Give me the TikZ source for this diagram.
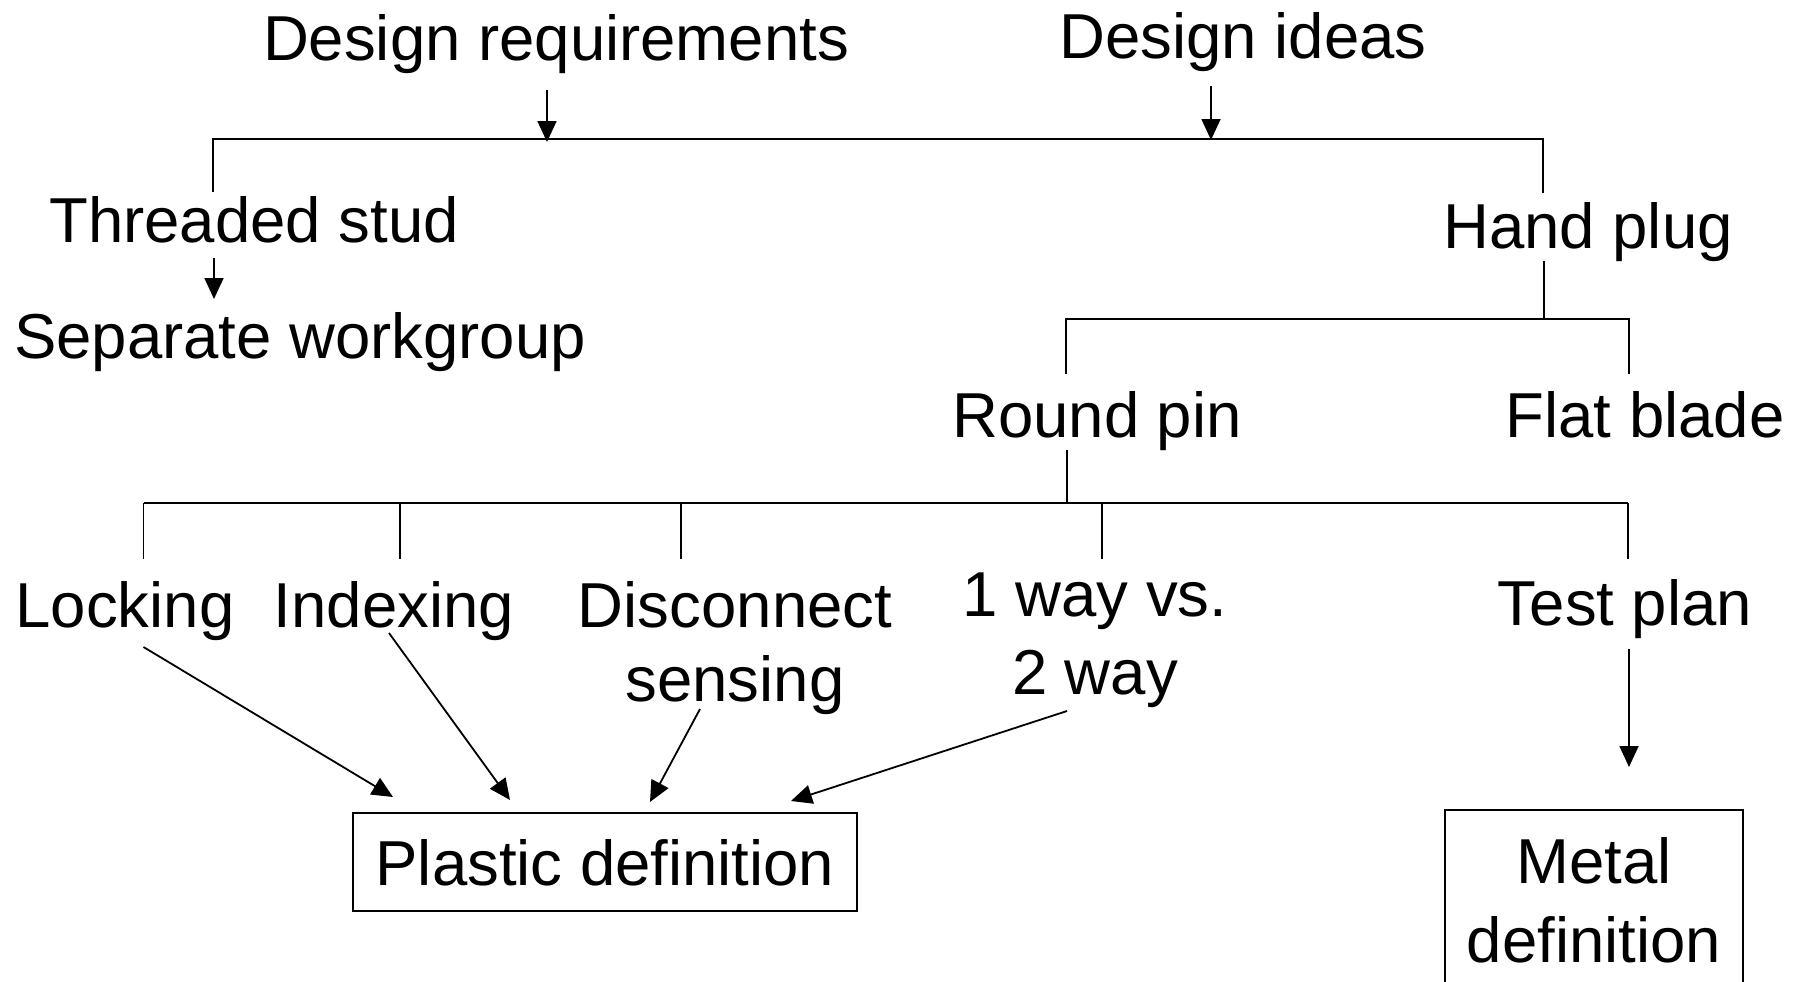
\documentclass[tikz,border=0pt]{standalone}
\usepackage{fontspec}
\setmainfont{Liberation Sans}
\usetikzlibrary{arrows.meta}
\begin{document}
\begin{tikzpicture}[x=1pt,y=-1pt,
  lbl/.style={anchor=base,inner sep=0pt,align=center,font=\fontsize{63.5}{76}\selectfont},
  ln/.style={line width=1.8pt},
  arr/.style={line width=1.8pt,-{Triangle[length=21pt,width=19pt]}},
  boxed/.style={draw,line width=1.8pt,inner sep=0pt,text depth=0pt,font=\fontsize{63.5}{76}\selectfont}]
\useasboundingbox (0,0) rectangle (1802,982);
% text nodes
\node[lbl] (dreq) at (556,60) {Design requirements};
\node[lbl] (dideas) at (1243,59) {Design ideas};
\node[lbl] (stud) at (254,242) {Threaded stud};
\node[lbl] (sep) at (300,358) {Separate workgroup};
\node[lbl] (hand) at (1588,248) {Hand plug};
\node[lbl] (round) at (1097,437) {Round pin};
\node[lbl] (flat) at (1645,437) {Flat blade};
\node[lbl] (lock) at (125,627) {Locking};
\node[lbl] (index) at (394,627) {Indexing};
\node[lbl,anchor=north,font=\fontsize{63.5}{74}\selectfont] (disc) at (735,581.5) {Disconnect\\sensing};
\node[lbl,anchor=north,font=\fontsize{63.5}{78}\selectfont] (way) at (1095,572.5) {1 way vs.\\2 way};
\node[lbl] (test) at (1625,625) {Test plan};
\node[boxed,minimum width=504pt,minimum height=98pt] (plastic) at (605,862) {Plastic definition};
\node[lbl,anchor=north,font=\fontsize{63.5}{79.5}\selectfont] (metal) at (1594,837) {Metal\\definition};
% metal box (runs past the lower edge)
\coordinate (mbl) at (1445,990);
\coordinate (mtl) at (1445,810);
\coordinate (mtr) at (1743,810);
\coordinate (mbr) at (1743,990);
\draw[ln] (mbl) -- (mtl) -- (mtr) -- (mbr);
% top tree
\coordinate (reqA) at (547,90);   \coordinate (reqB) at (547,142);
\coordinate (ideaA) at (1211,86); \coordinate (ideaB) at (1211,140);
\coordinate (t1L) at (213,139);   \coordinate (t1R) at (1543,139);
\coordinate (studTop) at (213,192); \coordinate (handTop) at (1543,193);
\draw[ln] (studTop) -- (t1L) -- (t1R) -- (handTop);
\draw[arr] (reqA) -- (reqB);
\draw[arr] (ideaA) -- (ideaB);
% threaded stud -> separate workgroup
\coordinate (studA) at (214,258); \coordinate (studB) at (214,299);
\draw[arr] (studA) -- (studB);
% hand plug branch
\coordinate (handBot) at (1544,261); \coordinate (h2) at (1544,319);
\coordinate (h2L) at (1066,319); \coordinate (h2R) at (1629,319);
\coordinate (roundTop) at (1066,374); \coordinate (flatTop) at (1629,374);
\draw[ln] (handBot) -- (h2);
\draw[ln] (roundTop) -- (h2L) -- (h2R) -- (flatTop);
% round pin branch
\coordinate (roundBot) at (1067,450); \coordinate (r2) at (1067,503);
\coordinate (r2L) at (143.5,503); \coordinate (r2R) at (1628,503);
\draw[ln] (roundBot) -- (r2);
\draw[ln] (r2L) -- (r2R);
\foreach \xx/\nm in {143.5/lk,400/ix,681/dc,1102/wy,1628/tp}{
  \coordinate (\nm Top) at (\xx,559);
  \draw[ln] (\xx,503) -- (\nm Top);
}
% arrows into plastic definition
\coordinate (lkA) at (143.5,647); \coordinate (lkB) at (393,797);
\coordinate (ixA) at (389,633);   \coordinate (ixB) at (510,800);
\coordinate (dcA) at (700,709);   \coordinate (dcB) at (650,802);
\coordinate (wyA) at (1067,711);  \coordinate (wyB) at (791,801);
\draw[arr] (lkA) -- (lkB);
\draw[arr] (ixA) -- (ixB);
\draw[arr] (dcA) -- (dcB);
\draw[arr] (wyA) -- (wyB);
% test plan -> metal definition
\coordinate (tpA) at (1629,649); \coordinate (tpB) at (1629,767);
\draw[arr] (tpA) -- (tpB);
\end{tikzpicture}
\end{document}
